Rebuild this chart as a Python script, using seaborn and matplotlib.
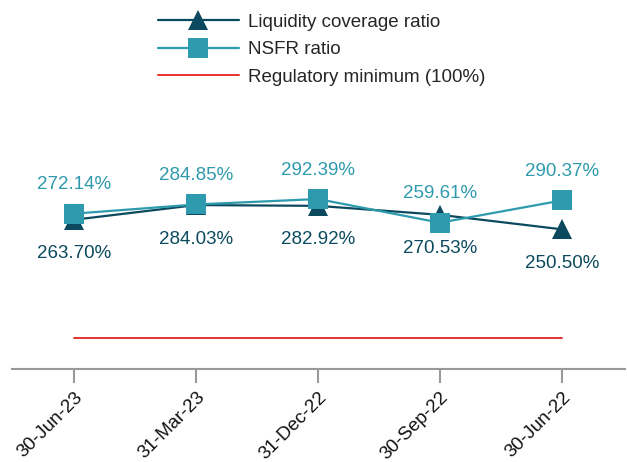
import numpy as np
import pandas as pd
import matplotlib
matplotlib.use("Agg")
import matplotlib.pyplot as plt
import seaborn as sns

dates = ["30-Jun-23", "31-Mar-23", "31-Dec-22", "30-Sep-22", "30-Jun-22"]
lcr = [263.70, 284.03, 282.92, 270.53, 250.50]
nsfr = [272.14, 284.85, 292.39, 259.61, 290.37]
reg_min = [100, 100, 100, 100, 100]

sns.set_theme(style="white")
plt.rcParams['font.family'] = ['Liberation Sans', 'DejaVu Sans']

lcr_col = "#0b4a5e"
nsfr_col = "#2e9aad"
red_col = "#e8312f"

df = pd.DataFrame({"date": dates, "lcr": lcr, "nsfr": nsfr, "min": reg_min})

fig = plt.figure(figsize=(6.27, 4.62), dpi=100)
ax = fig.add_axes([0.019, 0.201, 0.978, 0.79])

sns.lineplot(data=df, x="date", y="lcr", ax=ax, color=lcr_col, marker="^",
             markersize=15, linewidth=1.6, markeredgewidth=0,
             label="Liquidity coverage ratio", sort=False)
sns.lineplot(data=df, x="date", y="nsfr", ax=ax, color=nsfr_col, marker="s",
             markersize=14.5, linewidth=1.6, markeredgewidth=0,
             label="NSFR ratio", sort=False)
sns.lineplot(data=df, x="date", y="min", ax=ax, color=red_col, linewidth=1.4,
             label="Regulatory minimum (100%)", sort=False)

# value labels: NSFR above, LCR below
for i, v in enumerate(nsfr):
    ax.annotate(f"{v:.2f}%", (i, v), xytext=(0, 29), textcoords="offset pixels",
                ha="center", va="center", fontsize=13.5, color=nsfr_col)
for i, v in enumerate(lcr):
    ax.annotate(f"{v:.2f}%", (i, v), xytext=(0, -34), textcoords="offset pixels",
                ha="center", va="center", fontsize=13.5, color=lcr_col)

ax.set_xlim(-0.51, 4.52)
ax.set_ylim(57, 562)
ax.set_xlabel("")
ax.set_ylabel("")
ax.set_yticks([])
for s in ["left", "right", "top"]:
    ax.spines[s].set_visible(False)
ax.spines["bottom"].set_color("#999999")
ax.spines["bottom"].set_linewidth(1.5)
ax.tick_params(axis="x", bottom=True, length=10, width=1.5, color="#999999",
               labelsize=13.5, labelcolor="#111111", pad=4)
plt.setp(ax.get_xticklabels(), rotation=45, ha="right", rotation_mode="anchor")

ax.legend(loc="upper center", bbox_to_anchor=(0.505, 1.02), frameon=False,
          fontsize=13.5, handlelength=4.3, labelspacing=0.55, handletextpad=0.5)

fig.savefig("out.png", dpi=100)
